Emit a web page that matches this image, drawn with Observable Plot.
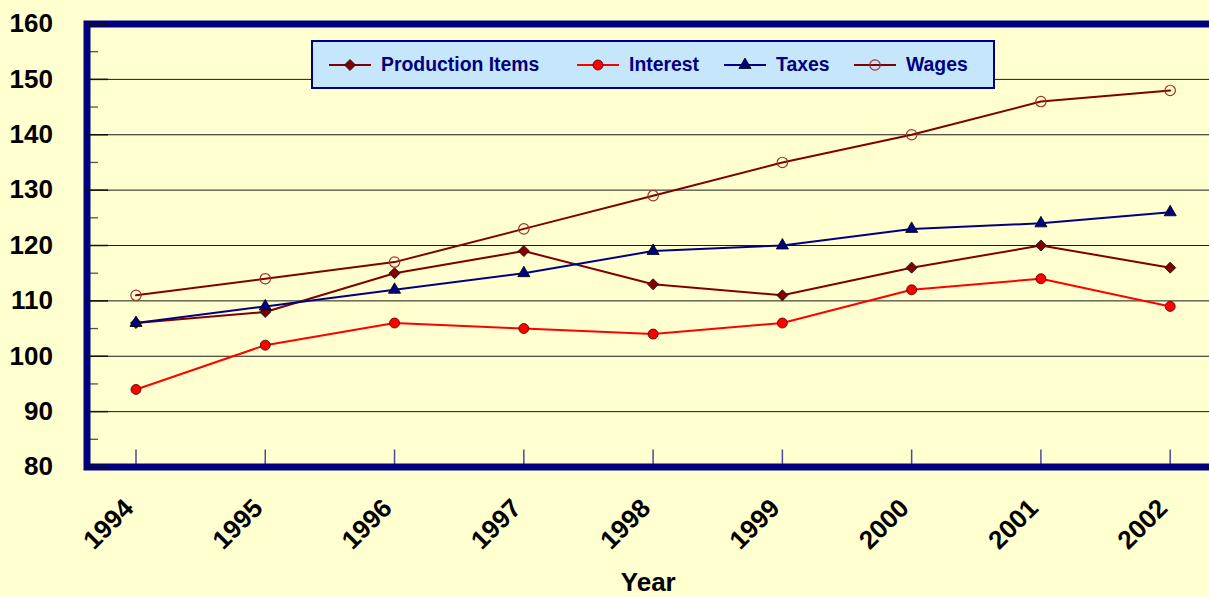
<!DOCTYPE html>
<html>
<head>
<meta charset="utf-8">
<script src="https://cdn.jsdelivr.net/npm/d3@7"></script>
<script src="https://cdn.jsdelivr.net/npm/@observablehq/plot@0.6"></script>
<style>
html,body{margin:0;padding:0;background:#FFFFD0;}
#wrap{position:relative;width:1209px;height:597px;overflow:hidden;background:#FFFFD0;}
#wrap svg{display:block;}
#legend{position:absolute;left:311px;top:40px;width:680px;height:45px;background:#C6E6FC;border:2px solid #000080;
  font-family:"Liberation Sans",Arial,sans-serif;font-weight:bold;font-size:19.4px;color:#000080;}
#legend .item{position:absolute;top:0;height:45px;display:flex;align-items:center;white-space:nowrap;}
#legend .item svg{margin-right:10px;}
</style>
</head>
<body>
<div id="wrap"></div>
<script>
// ---- data ----
const years = [1994, 1995, 1996, 1997, 1998, 1999, 2000, 2001, 2002];
const productionItems = [106, 108, 115, 119, 113, 111, 116, 120, 116];
const interest        = [94, 102, 106, 105, 104, 106, 112, 114, 109];
const taxes           = [106, 109, 112, 115, 119, 120, 123, 124, 126];
const wages           = [111, 114, 117, 123, 129, 135, 140, 146, 148];
const seriesNames = ["Production Items", "Interest", "Taxes", "Wages"];
const yTicks = [80, 90, 100, 110, 120, 130, 140, 150, 160];
const yGrid = [90, 100, 110, 120, 130, 140, 150];
const yMinorTicks = [85, 95, 105, 115, 125, 135, 145, 155];
const xTitle = "Year";

// ---- styles ----
const navy = "#000080";
const styles = {
  "Production Items": {line: "#800000", symbol: "diamond2", r: 5,   fill: "#800000", stroke: "#111", sw: 0.8},
  "Interest":         {line: "#FF0000", symbol: "circle",   r: 5,   fill: "#FF0000", stroke: "#400000", sw: 0.8},
  "Taxes":            {line: "#000080", symbol: "triangle", r: 4.5, fill: "#000080", stroke: "#000", sw: 0.8},
  "Wages":            {line: "#800000", symbol: "circle",   r: 5.2, fill: "none",    stroke: "#A03030", sw: 1.2}
};
const seriesValues = [productionItems, interest, taxes, wages];
const rows = seriesNames.map((name, k) => years.map((year, i) => ({series: name, year, value: seriesValues[k][i]})));

const W = 1209, H = 597;
const mLeft = 86.5, mTop = 23.5, mBottom = 130.5;
const frameH = H - mTop - mBottom;

const marks = [
  Plot.ruleY(yGrid, {stroke: "#1a1a1a", strokeWidth: 1}),
  Plot.ruleY(yMinorTicks, {stroke: "#555", strokeWidth: 1.3, insetRight: W - 98}),
  Plot.ruleX(years, {stroke: "#4848A0", strokeWidth: 1.5, insetTop: frameH - 17}),
];
seriesNames.forEach((name, k) => {
  const s = styles[name];
  marks.push(Plot.line(rows[k], {x: "year", y: "value", stroke: s.line, strokeWidth: 2}));
});
seriesNames.forEach((name, k) => {
  const s = styles[name];
  marks.push(Plot.dot(rows[k], {x: "year", y: "value", symbol: s.symbol, r: s.r, fill: s.fill, stroke: s.stroke, strokeWidth: s.sw}));
});
marks.push(
  Plot.frame({stroke: navy, strokeWidth: 7, insetRight: -20}),
  Plot.ruleY(yTicks, {stroke: "#111", strokeWidth: 1.5, insetRight: W - 108}),
  Plot.axisY(yTicks, {tickSize: 0, tickPadding: 34, fontSize: 26, fontWeight: "bold", fill: "#000", label: null}),
  Plot.text(years, {x: d => d, frameAnchor: "bottom", text: d => String(d), rotate: -45, textAnchor: "end",
    lineAnchor: "middle", dx: -7, dy: 37, fontSize: 26, fontWeight: "bold", fill: "#000"}),
  Plot.text([xTitle], {frameAnchor: "bottom", text: d => d, lineAnchor: "middle", dy: 115.5, fontSize: 26, fontWeight: "bold", fill: "#000"})
);

const chart = Plot.plot({
  width: W, height: H,
  marginLeft: mLeft, marginRight: 0, marginTop: mTop, marginBottom: mBottom,
  style: {background: "#FFFFD0", fontFamily: "'Liberation Sans', Arial, sans-serif", overflow: "hidden"},
  x: {type: "linear", domain: [years[0], years[years.length - 1]], range: [135.5, 1169.7], axis: null},
  y: {domain: [yTicks[0], yTicks[yTicks.length - 1]], axis: null},
  marks
});
const wrap = document.getElementById("wrap");
wrap.appendChild(chart);

// ---- legend (inside plot area, HTML overlay) ----
const legend = document.createElement("div");
legend.id = "legend";
const itemLeft = [16, 264, 411, 541];
seriesNames.forEach((name, k) => {
  const s = styles[name];
  const item = document.createElement("div");
  item.className = "item";
  item.style.left = itemLeft[k] + "px";
  const symType = {circle: d3.symbolCircle, diamond2: d3.symbolDiamond2, triangle: d3.symbolTriangle}[s.symbol];
  const path = d3.symbol(symType, Math.PI * s.r * s.r)();
  item.innerHTML = `<svg width="42" height="20" viewBox="0 0 42 20"><line x1="0" x2="42" y1="10" y2="10" stroke="${s.line}" stroke-width="2"/>` +
    `<path transform="translate(21,10)" d="${path}" fill="${s.fill}" stroke="${s.stroke}" stroke-width="${s.sw}"/></svg>`;
  const label = document.createElement("span");
  label.textContent = name;
  item.appendChild(label);
  legend.appendChild(item);
});
wrap.appendChild(legend);
</script>
</body>
</html>
